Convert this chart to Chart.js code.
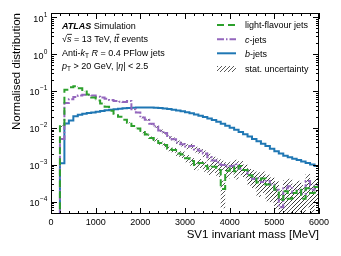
<!DOCTYPE html>
<html>
<head>
<meta charset="utf-8">
<script src="https://cdn.jsdelivr.net/npm/chart.js@4.4.1/dist/chart.umd.min.js"></script>
<style>
  html, body { margin: 0; padding: 0; background: #fff; }
  #wrap { width: 341px; height: 256px; }
</style>
</head>
<body>
<div id="wrap"><canvas id="chart" width="341" height="256"></canvas></div>
<script>
// SV1 invariant mass, normalised, per flavour (100 MeV bins)

const FONT = '"Liberation Sans", Arial, Helvetica, sans-serif';

// --- Data ---
const binLow = [
  0, 100, 200, 300, 400, 500, 600, 700, 800, 900,
  1000, 1100, 1200, 1300, 1400, 1500, 1600, 1700, 1800, 1900,
  2000, 2100, 2200, 2300, 2400, 2500, 2600, 2700, 2800, 2900,
  3000, 3100, 3200, 3300, 3400, 3500, 3600, 3700, 3800, 3900,
  4000, 4100, 4200, 4300, 4400, 4500, 4600, 4700, 4800, 4900,
  5000, 5100, 5200, 5300, 5400, 5500, 5600, 5700, 5800, 5900,
];
const binMax = 6000;

const lightJets = [
  0, 0, 0.011, 0.108, 0.125, 0.134, 0.118, 0.097, 0.080, 0.066,
  0.055, 0.046, 0.037, 0.029, 0.024, 0.020, 0.0165, 0.0138, 0.0112, 0.0096,
  0.0077, 0.0066, 0.0053, 0.0047, 0.0039, 0.0034, 0.0027, 0.0025, 0.0020, 0.0019,
  0.0015, 0.00125, 0.00098, 0.00112, 0.00092, 0.00078, 0.00088, 0.00072, 0.00022, 0.00068,
  0.00085, 0.00066, 0.00092, 0.00072, 0.00052, 0.00048, 0.00033, 0.00042, 0.00029, 0.00027,
  0.00021, 0.00011, 0.00019, 0.00012, 0.00017, 0.00021, 0.00012, 0.00023, 0.00017, 0.00025,
];
const cJets = [
  0, 0, 0.005, 0.047, 0.060, 0.068, 0.075, 0.079, 0.078, 0.075,
  0.070, 0.066, 0.061, 0.057, 0.053, 0.051, 0.050, 0.053, 0.032, 0.026,
  0.019, 0.0165, 0.0128, 0.0108, 0.0085, 0.0072, 0.0056, 0.0049, 0.0040, 0.0036,
  0.0031, 0.0032, 0.0026, 0.0024, 0.0020, 0.0016, 0.0013, 0.00115, 0.00098, 0.00088,
  0.00092, 0.00105, 0.00078, 0.00072, 0.00052, 0.00041, 0.00043, 0.00034, 0.00036, 0.00029,
  0.00021, 0.00007, 0.00023, 0.00026, 0.00017, 0.00020, 0.00016, 0.00036, 0.00021, 0.00027,
];
const bJets = [
  0, 0, 0.0011, 0.0130, 0.0158, 0.0205, 0.0225, 0.0240, 0.0252, 0.0262,
  0.0272, 0.0285, 0.0298, 0.0310, 0.0320, 0.0330, 0.0338, 0.0345, 0.0350, 0.0355,
  0.0358, 0.0358, 0.0355, 0.0350, 0.0343, 0.0334, 0.0323, 0.0310, 0.0296, 0.0280,
  0.0264, 0.0247, 0.0230, 0.0213, 0.0196, 0.0179, 0.0162, 0.0145, 0.0129, 0.0114,
  0.0100, 0.0088, 0.0077, 0.0067, 0.0058, 0.0050, 0.0043, 0.0037, 0.0032, 0.0027,
  0.0023, 0.0020, 0.00175, 0.00158, 0.00145, 0.00135, 0.00123, 0.00112, 0.00102, 0.00092,
];

// relative stat. uncertainty per bin
const lightUnc = [
  0, 0, 0.05, 0.01, 0.01, 0.01, 0.01, 0.01, 0.01, 0.01,
  0.01, 0.01, 0.01, 0.01, 0.01, 0.015, 0.02, 0.03, 0.04, 0.05,
  0.07, 0.08, 0.09, 0.10, 0.11, 0.12, 0.14, 0.16, 0.18, 0.20,
  0.22, 0.25, 0.28, 0.27, 0.30, 0.33, 0.32, 0.36, 0.70, 0.38,
  0.36, 0.40, 0.36, 0.40, 0.48, 0.50, 0.60, 0.55, 0.65, 0.65,
  0.70, 0.90, 0.75, 0.88, 0.80, 0.75, 0.88, 0.70, 0.80, 0.65,
];
const cUnc = [
  0, 0, 0.05, 0.01, 0.01, 0.01, 0.01, 0.01, 0.01, 0.01,
  0.01, 0.01, 0.01, 0.01, 0.01, 0.01, 0.01, 0.01, 0.03, 0.035,
  0.045, 0.05, 0.06, 0.07, 0.08, 0.09, 0.10, 0.12, 0.13, 0.14,
  0.16, 0.16, 0.18, 0.19, 0.22, 0.24, 0.26, 0.28, 0.30, 0.32,
  0.31, 0.29, 0.34, 0.36, 0.42, 0.45, 0.45, 0.50, 0.50, 0.55,
  0.65, 0.95, 0.65, 0.60, 0.75, 0.70, 0.75, 0.55, 0.70, 0.65,
];

const xTicks = [0, 1000, 2000, 3000, 4000, 5000, 6000];
const xMinorStep = 200;
const yDecades = [-4, -3, -2, -1, 0, 1];
const yMin = 4.6e-5;
const yMax = 13;

const colLight = '#2ca02c';
const colC = '#9467bd';
const colB = '#1f77b4';

// --- Build step outlines ---
const FLOOR = 1e-6;

function stepPoints(vals) {
  const first = vals.findIndex(v => v > 0);
  const pts = [{ x: binLow[first], y: FLOOR }];
  for (let i = first; i < vals.length; i++) {
    pts.push({ x: binLow[i], y: vals[i] > 0 ? vals[i] : FLOOR });
  }
  pts.push({ x: binMax, y: vals[vals.length - 1] });
  pts.push({ x: binMax, y: FLOOR });
  return pts;
}

function bandPoints(vals, unc, sign) {
  const first = vals.findIndex(v => v > 0);
  const pts = [];
  for (let i = first; i < vals.length; i++) {
    const v = vals[i] * (1 + sign * unc[i]);
    pts.push({ x: binLow[i], y: v > 0 ? v : FLOOR });
  }
  pts.push({ x: binMax, y: pts[pts.length - 1].y });
  return pts;
}

const canvas = document.getElementById('chart');
const mainCtx = canvas.getContext('2d');

function makeHatch() {
  const c = document.createElement('canvas');
  c.width = 4; c.height = 4;
  const g = c.getContext('2d');
  g.strokeStyle = 'rgba(50,50,50,0.9)';
  g.lineWidth = 0.9;
  g.beginPath();
  g.moveTo(0, 4); g.lineTo(4, 0);
  g.moveTo(-1, 1); g.lineTo(1, -1);
  g.moveTo(3, 5); g.lineTo(5, 3);
  g.stroke();
  return mainCtx.createPattern(c, 'repeat');
}
const hatch = makeHatch();

function bandSet(vals, unc, sign, fill, order) {
  return {
    data: bandPoints(vals, unc, sign),
    stepped: true,
    borderWidth: 0,
    borderColor: 'rgba(0,0,0,0)',
    backgroundColor: hatch,
    fill: fill,
    pointRadius: 0,
    order: order,
  };
}

function lineSet(vals, color, dash, order) {
  return {
    data: stepPoints(vals),
    stepped: true,
    borderColor: color,
    borderWidth: 2,
    borderDash: dash,
    fill: false,
    pointRadius: 0,
    order: order,
  };
}

// --- Rich text helper ---
function drawRich(ctx, x, y, parts, size) {
  for (const p of parts) {
    const s = p.sub ? size * 0.72 : size;
    ctx.font = (p.it ? 'italic ' : '') + (p.bold ? 'bold ' : '') + s + 'px ' + FONT;
    const yy = p.sub ? y + size * 0.3 : y;
    ctx.fillText(p.t, x, yy);
    const w = ctx.measureText(p.t).width;
    if (p.bar) ctx.fillRect(x, yy - size * 0.9, w + 0.5, 0.8);
    x += w;
  }
  return x;
}

// --- Frame, inward ticks, y labels, text annotations ---
const decorPlugin = {
  id: 'decor',
  afterDraw(chart) {
    const { ctx, chartArea: a, scales } = chart;
    const xs = scales.x, ys = scales.y;
    ctx.save();
    ctx.strokeStyle = '#000';
    ctx.lineWidth = 1;
    ctx.strokeRect(a.left + 0.5, a.top + 0.5, a.right - a.left - 1, a.bottom - a.top - 1);

    ctx.beginPath();
    for (let v = xTicks[0]; v <= xTicks[xTicks.length - 1]; v += xMinorStep) {
      const px = Math.round(xs.getPixelForValue(v)) + 0.5;
      const len = xTicks.includes(v) ? 6 : 3;
      ctx.moveTo(px, a.bottom); ctx.lineTo(px, a.bottom - len);
      ctx.moveTo(px, a.top); ctx.lineTo(px, a.top + len);
    }
    for (let e = yDecades[0] - 1; e <= yDecades[yDecades.length - 1]; e++) {
      for (let m = 1; m <= 9; m++) {
        const v = m * Math.pow(10, e);
        if (v < yMin || v > yMax) continue;
        const py = Math.round(ys.getPixelForValue(v)) + 0.5;
        const len = m === 1 ? 6 : 3;
        ctx.moveTo(a.left, py); ctx.lineTo(a.left + len, py);
        ctx.moveTo(a.right, py); ctx.lineTo(a.right - len, py);
      }
    }
    ctx.stroke();

    // y tick labels 10^n
    ctx.fillStyle = '#000';
    ctx.textBaseline = 'alphabetic';
    ctx.textAlign = 'left';
    for (const e of yDecades) {
      const py = ys.getPixelForValue(Math.pow(10, e));
      const ex = e < 0 ? '\u2212' + (-e) : String(e);
      ctx.font = '9px ' + FONT;
      const w10 = ctx.measureText('10').width;
      ctx.font = '6.5px ' + FONT;
      const wex = ctx.measureText(ex).width;
      const x0 = 47 - w10 - wex;
      ctx.font = '9px ' + FONT;
      ctx.fillText('10', x0, py + 4.5);
      ctx.font = '6.5px ' + FONT;
      ctx.fillText(ex, x0 + w10 + 0.3, py - 0.5);
    }

    // ATLAS label
    const tx = 62, fs = 9;
    drawRich(ctx, tx, 28.5, [{ t: 'ATLAS', it: true, bold: true }, { t: ' Simulation' }], fs);
    drawRich(ctx, tx, 42, [
      { t: '\u221A' }, { t: 's', it: true, bar: true }, { t: ' = 13 TeV, ' },
      { t: 't', it: true }, { t: 't', it: true, bar: true }, { t: ' events' },
    ], fs);
    drawRich(ctx, tx, 55.5, [
      { t: 'Anti-' }, { t: 'k', it: true }, { t: 'T', sub: true }, { t: ' ' },
      { t: 'R', it: true }, { t: ' = 0.4 PFlow jets' },
    ], fs);
    drawRich(ctx, tx, 68.5, [
      { t: 'p', it: true }, { t: 'T', sub: true }, { t: ' > 20 GeV, |' },
      { t: '\u03B7', it: true }, { t: '| < 2.5' },
    ], fs);

    // legend
    const lx0 = 217, lx1 = 236, ltx = 245;
    ctx.lineWidth = 2;
    const rows = [
      { y: 25, color: colLight, dash: [7, 4], parts: [{ t: 'light-flavour jets' }] },
      { y: 39.3, color: colC, dash: [7, 2, 1.5, 2], parts: [{ t: 'c', it: true }, { t: '-jets' }] },
      { y: 53.3, color: colB, dash: [], parts: [{ t: 'b', it: true }, { t: '-jets' }] },
    ];
    for (const r of rows) {
      ctx.strokeStyle = r.color;
      ctx.setLineDash(r.dash);
      ctx.beginPath();
      ctx.moveTo(lx0, r.y); ctx.lineTo(lx1, r.y);
      ctx.stroke();
      ctx.setLineDash([]);
      drawRich(ctx, ltx, r.y + 3.3, r.parts, fs);
    }
    ctx.fillStyle = hatch;
    ctx.fillRect(lx0, 66, lx1 - lx0, 6);
    ctx.fillStyle = '#000';
    drawRich(ctx, ltx, 72, [{ t: 'stat. uncertainty' }], fs);

    ctx.restore();
  },
};

// --- Chart ---
new Chart(canvas, {
  type: 'line',
  data: {
    datasets: [
      bandSet(lightJets, lightUnc, 1, '+1', 10),
      bandSet(lightJets, lightUnc, -1, false, 11),
      bandSet(cJets, cUnc, 1, '+1', 12),
      bandSet(cJets, cUnc, -1, false, 13),
      lineSet(bJets, colB, [], 2),
      lineSet(cJets, colC, [7, 2, 1.5, 2], 1),
      lineSet(lightJets, colLight, [7, 4], 0),
    ],
  },
  options: {
    responsive: false,
    animation: false,
    layout: { padding: { left: 0, right: 22, top: 13, bottom: 0 } },
    plugins: {
      legend: { display: false },
      tooltip: { enabled: false },
    },
    scales: {
      x: {
        type: 'linear',
        min: 0,
        max: binMax,
        grid: { display: false, drawTicks: false },
        border: { display: false },
        afterBuildTicks: (s) => { s.ticks = xTicks.map(v => ({ value: v })); },
        afterFit: (s) => { s.height = 42; },
        ticks: {
          color: '#000',
          font: { family: FONT, size: 9 },
          padding: 3,
          maxRotation: 0,
          autoSkip: false,
          callback: (v) => String(v),
        },
        title: {
          display: true,
          text: 'SV1 invariant mass [MeV]',
          align: 'end',
          color: '#000',
          font: { family: FONT, size: 11.5 },
          padding: { top: 0, bottom: 14 },
        },
      },
      y: {
        type: 'logarithmic',
        min: yMin,
        max: yMax,
        grid: { display: false, drawTicks: false },
        border: { display: false },
        ticks: { display: false },
        afterFit: (s) => { s.width = 51; },
        title: {
          display: true,
          text: 'Normalised distribution',
          align: 'end',
          color: '#000',
          font: { family: FONT, size: 11.5 },
          padding: { top: 10, bottom: 0 },
        },
      },
    },
  },
  plugins: [decorPlugin],
});
</script>
</body>
</html>
